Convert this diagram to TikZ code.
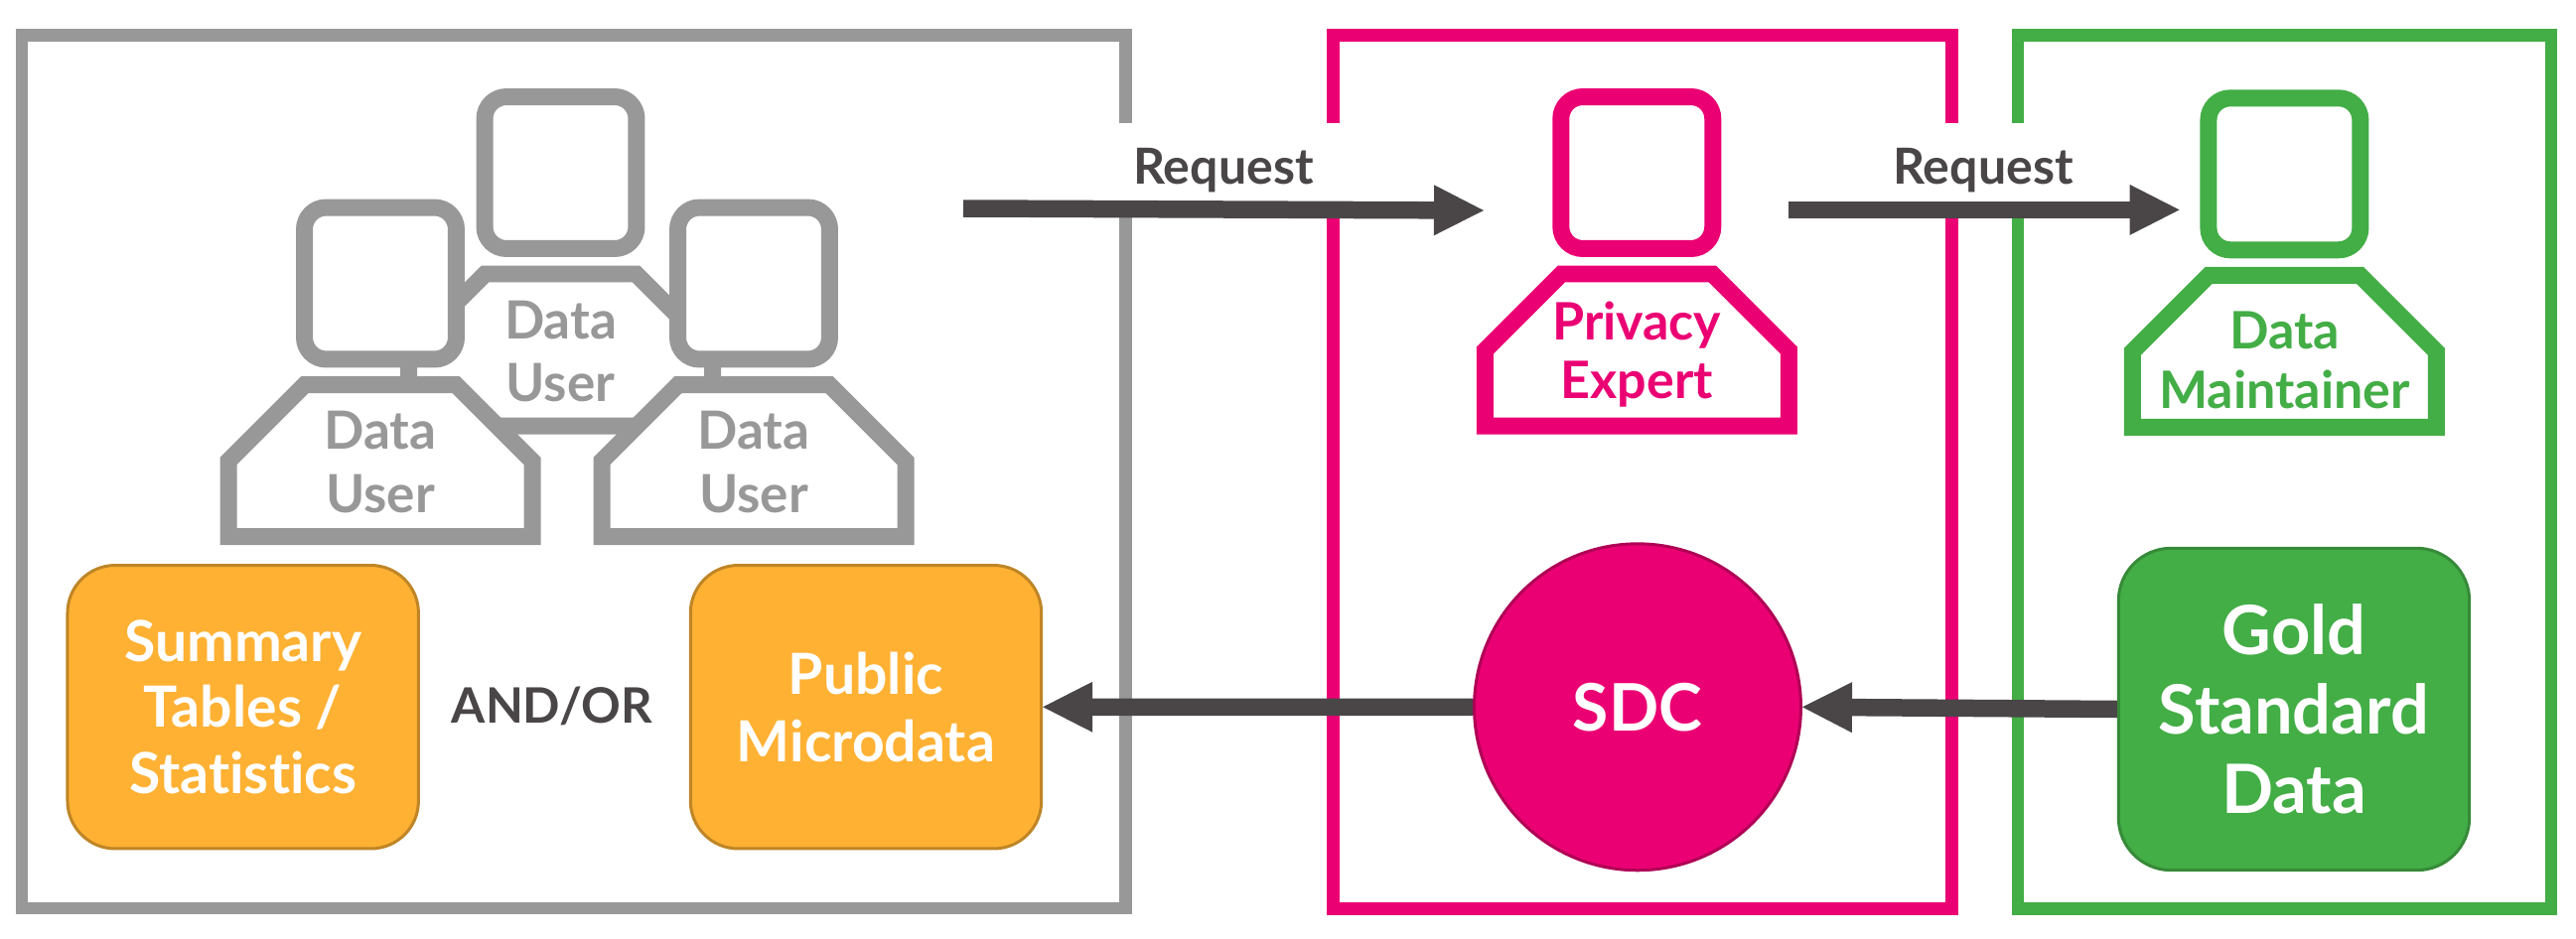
\documentclass[tikz,border=0pt]{standalone}
\usepackage{fontspec}
\setmainfont{Lato}[Ligatures=CommonOff]
\usetikzlibrary{arrows.meta}
\definecolor{usergray}{HTML}{989898}
\definecolor{expertpink}{HTML}{EB0073}
\definecolor{keepgreen}{HTML}{43AD46}
\definecolor{puborange}{HTML}{FFB133}
\definecolor{flowdark}{HTML}{4A4647}
\tikzset{
	frame/.style={draw,line width=.25cm,inner sep=0pt,minimum height=17.6cm},
	headbox/.style={draw,fill=white,line width=.34cm,inner sep=0pt,minimum size=3.06cm,rounded corners=.44cm},
	bodyline/.style={fill=white,line width=.34cm,line join=miter},
	tagtext/.style n args={2}{font=\bfseries\fontsize{#1}{#2}\selectfont,align=center,inner sep=0pt},
	databox/.style={draw,line width=.06cm,inner sep=0pt,text=white,align=center},
	reqlabel/.style={fill=white,text=flowdark,inner sep=0pt,anchor=base,minimum width=4.72cm,
		text height=1.22cm,text depth=.6cm,font=\bfseries\fontsize{28.5}{34}\selectfont},
	flow/.style={draw=flowdark,line width=.35cm,-{Triangle[length=1cm,width=1.02cm,line width=0pt]}},
}
% name, x, y of the head, colour, drop of the label, font size and line distance, label
\newcommand{\Person}[7]{
	\node[headbox,draw=#4] (#1head) at (#2,#3) {};
	\draw[bodyline,draw=#4,shift={(#2,#3)}] (-76,102) -- (76,102) -- (153,179) -- (153,255)
		-- (-153,255) -- (-153,179) -- cycle;
	\node[tagtext=#6,text=#4] (#1tag) at (#2,#3+#5) {#7};
}
\begin{document}
\begin{tikzpicture}[x=.02cm,y=-.02cm]
	\useasboundingbox (0,0) rectangle (2594,946);
	% the three frames
	\node[frame,draw=usergray,minimum width=22.23cm] (userframe) at (577.75,475.25) {};
	\node[frame,draw=expertpink,minimum width=12.46cm] (expertframe) at (1654,475.5) {};
	\node[frame,draw=keepgreen,minimum width=10.75cm] (keepframe) at (2300.45,475.5) {};
	\node[reqlabel] (reqone) at (1232,185) {Request};
	\node[reqlabel] (reqtwo) at (1997,185) {Request};
	% people
	\Person{usertop}{564.5}{174}{usergray}{180}{{30.2}{36.3}}{Data\\User}
	\Person{userleft}{383}{285.5}{usergray}{180}{{30.2}{36.3}}{Data\\User}
	\Person{userright}{759}{285.5}{usergray}{180}{{30.2}{36.3}}{Data\\User}
	\Person{expert}{1648.3}{174}{expertpink}{183}{{29.6}{34}}{Privacy\\Expert}
	\Person{keeper}{2300.4}{175.3}{keepgreen}{187.7}{{29.6}{34}}{Data\\Maintainer}
	% data
	\node[databox,fill=puborange,draw=puborange!75!black,minimum width=7.07cm,minimum height=5.71cm,rounded corners=.96cm,
		font=\bfseries\fontsize{32.5}{37.7}\selectfont] (tables) at (244.7,712.25) {Summary\\Tables /\\Statistics};
	\node[databox,fill=puborange,draw=puborange!75!black,minimum width=7.07cm,minimum height=5.71cm,rounded corners=.96cm,
		font=\bfseries\fontsize{32.5}{38.5}\selectfont] (micro) at (872,712.25) {Public\\Microdata};
	\node[text=flowdark,font=\bfseries\fontsize{28}{34}\selectfont] (andor) at (556,711) {AND/OR};
	\node[databox,circle,fill=expertpink,draw=expertpink!75!black,minimum size=6.58cm,
		font=\bfseries\fontsize{37.6}{46}\selectfont] (sdc) at (1649,712.3) {SDC};
	\node[databox,fill=keepgreen,draw=keepgreen!80!black,minimum width=7.07cm,minimum height=6.49cm,rounded corners=1.06cm,
		font=\bfseries\fontsize{39}{45.4}\selectfont] (gold) at (2310,714.5) {Gold\\Standard\\Data};
	% arrows
	\coordinate (oneout) at (970,210);
	\coordinate (onein) at (1494,212);
	\coordinate (twoout) at (1801,211.4);
	\coordinate (twoin) at (2194.6,211.4);
	\draw[flow] (oneout) -- (onein);
	\draw[flow] (twoout) -- (twoin);
	\draw[flow] (gold.west) -- (sdc.east);
	\draw[flow] (sdc.west) -- (micro.east);
\end{tikzpicture}
\end{document}
